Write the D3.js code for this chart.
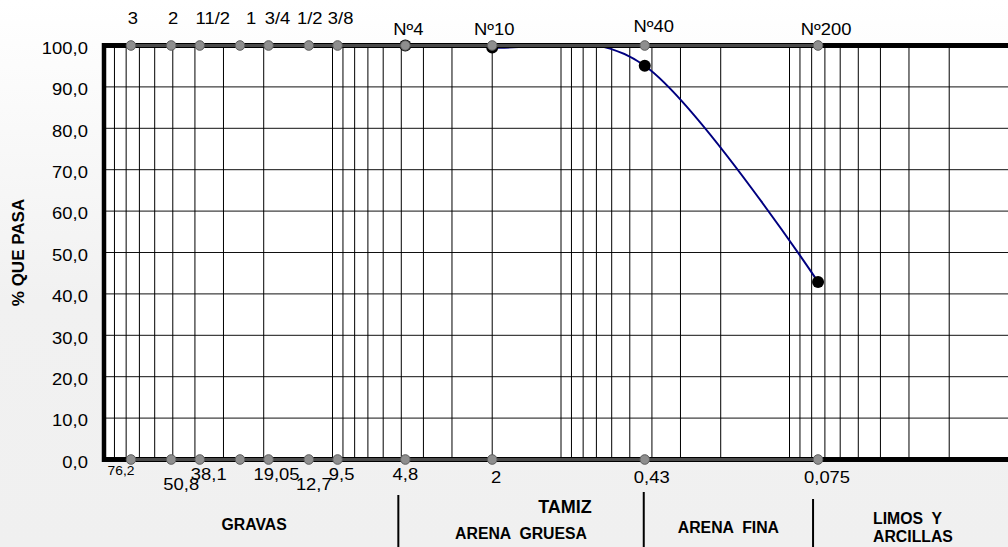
<!DOCTYPE html>
<html>
<head>
<meta charset="utf-8">
<script src="https://cdn.jsdelivr.net/npm/d3@7"></script>
<style>
  html, body { margin: 0; padding: 0; }
  svg { display: block; font-family: "Liberation Sans", Arial, sans-serif; }
  .pre { white-space: pre; }
</style>
</head>
<body>
<svg id="chart" width="1008" height="547"></svg>
<script>
// ---------------- DATA ----------------
const sieveSizes    = [76.2, 50.8, 38.1, 25.4, 19.05, 12.7, 9.5, 4.8, 2, 0.43, 0.075];
const sieveNames    = ["3", "2", "11/2", "1", "3/4", "1/2", "3/8", "Nº4", "Nº10", "Nº40", "Nº200"];
const sieveOpenings = ["76,2", "50,8", "38,1", "", "19,05", "12,7", "9,5", "4,8", "2", "0,43", "0,075"];
const testSizes      = [4.8, 2, 0.43, 0.075];
const percentPassing = [100, 99.5, 95.1, 42.9];
const yTicks = [0, 10, 20, 30, 40, 50, 60, 70, 80, 90, 100];
const soilClasses = [["GRAVAS"], ["ARENA  GRUESA"], ["ARENA  FINA"], ["LIMOS  Y", "ARCILLAS"]];
const xTitle = "TAMIZ";
const yTitle = "% QUE PASA";

// ---------------- LAYOUT ----------------
const W = 1008, H = 547;
const plot = { left: 104, top: 45.5, bottom: 459.5, right: 1008 };
const SX = 1.15; // horizontal stretch of regular chart text

const svg = d3.select("#chart");
const fmt = d3.formatLocale({ decimal: ",", thousands: ".", grouping: [3], currency: ["", ""] }).format(".1f");

const x = d3.scaleLog().domain([100, 0.01]).range([plot.left, 1018]);
const y = d3.scaleLinear().domain([0, 100]).range([plot.bottom, plot.top]);

// background
const defs = svg.append("defs");
const grad = defs.append("linearGradient").attr("id", "bg").attr("x1", 0).attr("y1", 0).attr("x2", 0).attr("y2", 1);
grad.append("stop").attr("offset", "0%").attr("stop-color", "#ffffff");
grad.append("stop").attr("offset", "55%").attr("stop-color", "#f1f1f1");
grad.append("stop").attr("offset", "100%").attr("stop-color", "#f0f0f0");
svg.append("rect").attr("width", W).attr("height", H).attr("fill", "url(#bg)");

defs.append("clipPath").attr("id", "plotclip").append("rect")
  .attr("x", plot.left).attr("y", plot.top)
  .attr("width", plot.right - plot.left).attr("height", plot.bottom - plot.top);

// plot area
svg.append("rect").attr("x", plot.left).attr("y", plot.top)
  .attr("width", plot.right - plot.left).attr("height", plot.bottom - plot.top)
  .attr("fill", "#ffffff");

// gridlines
const grid = svg.append("g").attr("clip-path", "url(#plotclip)");
grid.selectAll("line.h").data(yTicks.filter(v => v > 0 && v < 100)).join("line")
  .attr("class", "h")
  .attr("x1", plot.left).attr("x2", plot.right)
  .attr("y1", d => y(d)).attr("y2", d => y(d))
  .attr("stroke", "#111").attr("stroke-width", 1);
grid.selectAll("line.v").data(x.ticks().filter(v => v < 100 && v > 0.01)).join("line")
  .attr("class", "v")
  .attr("x1", d => x(d)).attr("x2", d => x(d))
  .attr("y1", plot.top).attr("y2", plot.bottom)
  .attr("stroke", "#000").attr("stroke-width", 1);

// data curve
const line = d3.line().x(d => x(d[0])).y(d => y(d[1])).curve(d3.curveCardinal.tension(0));
const pts = testSizes.map((s, i) => [s, percentPassing[i]]);
svg.append("path").attr("clip-path", "url(#plotclip)")
  .attr("d", line(pts)).attr("fill", "none")
  .attr("stroke", "#000080").attr("stroke-width", 2);

// data markers
svg.append("g").selectAll("circle").data(pts).join("circle")
  .attr("cx", d => x(d[0])).attr("cy", d => y(d[1])).attr("r", 6)
  .attr("fill", "#000");

// plot borders
svg.append("line").attr("x1", plot.left).attr("x2", plot.right).attr("y1", plot.top).attr("y2", plot.top)
  .attr("stroke", "#000").attr("stroke-width", 5);
svg.append("line").attr("x1", plot.left).attr("x2", plot.right).attr("y1", plot.bottom).attr("y2", plot.bottom)
  .attr("stroke", "#000").attr("stroke-width", 5);
svg.append("line").attr("x1", plot.left).attr("x2", plot.left).attr("y1", plot.top - 2.5).attr("y2", plot.bottom + 2.5)
  .attr("stroke", "#000").attr("stroke-width", 4.5);

// sieve reference series at 100 and 0
[100, 0].forEach(v => {
  svg.append("line")
    .attr("x1", x(sieveSizes[0])).attr("x2", x(sieveSizes[sieveSizes.length - 1]))
    .attr("y1", y(v)).attr("y2", y(v))
    .attr("stroke", "#4a4a4a").attr("stroke-width", 3);
  svg.append("g").selectAll("circle").data(sieveSizes).join("circle")
    .attr("cx", d => x(d)).attr("cy", y(v)).attr("r", 4.8)
    .attr("fill", "#8e8e8e").attr("stroke", "#5c5c5c").attr("stroke-width", 1);
});

// y axis labels
const yAxis = d3.axisLeft(y).tickValues(yTicks).tickFormat(fmt).tickSize(0).tickPadding(14);
const gy = svg.append("g").attr("transform", `translate(${plot.left},0)`).call(yAxis);
gy.select(".domain").remove();
gy.selectAll("text")
  .attr("font-family", "Liberation Sans, Arial, sans-serif")
  .attr("font-size", 16).attr("fill", "#000")
  .attr("dy", "0.49em")
  .attr("transform", `scale(${SX},1)`);

// top sieve names
const topDx = [2, 2, 13, 11, 9, 1, 3, 3, 2, 9, 8];
svg.append("g").selectAll("text").data(sieveNames).join("text")
  .attr("transform", (d, i) => {
    const by = d.startsWith("Nº") ? (d === "Nº40" ? 32 : 35) : 24;
    return `translate(${x(sieveSizes[i]) + topDx[i]},${by}) scale(${SX},1)`;
  })
  .attr("text-anchor", "middle").attr("font-size", 16).attr("fill", "#000")
  .text(d => d);

// bottom sieve openings
const botDx = [-10, 10, 9, 0, 8, 5, 4, 0, 4, 7, 9];
const lowered = new Set(["50,8", "12,7"]);
svg.append("g").selectAll("text").data(sieveOpenings).join("text")
  .attr("transform", (d, i) => {
    const by = i === 0 ? 475 : (lowered.has(d) ? 490 : (sieveSizes[i] < 4 ? 483 : 480));
    return `translate(${x(sieveSizes[i]) + botDx[i]},${by}) scale(${SX},1)`;
  })
  .attr("text-anchor", "middle")
  .attr("font-size", (d, i) => i === 0 ? 12 : 16)
  .attr("fill", "#000")
  .text(d => d);

// y title
svg.append("text")
  .attr("transform", `translate(24.3,${(plot.top + plot.bottom) / 2}) rotate(-90)`)
  .attr("text-anchor", "middle").attr("font-weight", "bold").attr("font-size", 17)
  .text(yTitle);

// x title
svg.append("text")
  .attr("x", (x.range()[0] + x.range()[1]) / 2 + 4).attr("y", 513)
  .attr("text-anchor", "middle").attr("font-weight", "bold").attr("font-size", 18)
  .text(xTitle);

// soil classification band
const sepX = [x(4.8) - 7, x(0.43) - 1, x(0.075) - 5];
const sepTop = [495, 492, 499];
svg.append("g").selectAll("line").data(sepX).join("line")
  .attr("x1", d => d).attr("x2", d => d)
  .attr("y1", (d, i) => sepTop[i]).attr("y2", H)
  .attr("stroke", "#000").attr("stroke-width", 2);

const bandEdges = [plot.left, ...sepX];
const cls = svg.append("g").attr("font-weight", "bold").attr("font-size", 15.8);
cls.append("text").attr("class", "pre").attr("x", (bandEdges[0] + bandEdges[1]) / 2 + 3).attr("y", 530)
  .attr("text-anchor", "middle").text(soilClasses[0][0]);
cls.append("text").attr("class", "pre").attr("x", (bandEdges[1] + bandEdges[2]) / 2).attr("y", 539)
  .attr("text-anchor", "middle").text(soilClasses[1][0]);
cls.append("text").attr("class", "pre").attr("x", (bandEdges[2] + bandEdges[3]) / 2).attr("y", 533)
  .attr("text-anchor", "middle").text(soilClasses[2][0]);
soilClasses[3].forEach((t, i) => {
  cls.append("text").attr("class", "pre").attr("x", bandEdges[3] + 60).attr("y", 524 + i * 17.7)
    .attr("text-anchor", "start").text(t);
});
</script>
</body>
</html>
